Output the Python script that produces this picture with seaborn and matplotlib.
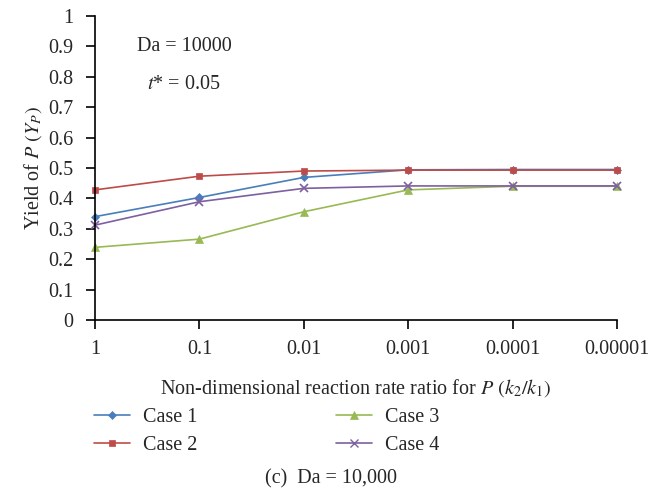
import matplotlib
matplotlib.use("Agg")
import matplotlib.pyplot as plt
import seaborn as sns
import pandas as pd
from matplotlib.lines import Line2D

categories = ["1", "0.1", "0.01", "0.001", "0.0001", "0.00001"]
case1 = [0.340, 0.403, 0.469, 0.494, 0.495, 0.495]
case2 = [0.428, 0.473, 0.490, 0.493, 0.493, 0.493]
case3 = [0.239, 0.266, 0.356, 0.428, 0.440, 0.440]
case4 = [0.312, 0.389, 0.433, 0.441, 0.441, 0.441]
series_names = ["Case 1", "Case 2", "Case 3", "Case 4"]
yticks = [0, 0.1, 0.2, 0.3, 0.4, 0.5, 0.6, 0.7, 0.8, 0.9, 1]
ytick_labels = ["0", "0.1", "0.2", "0.3", "0.4", "0.5", "0.6", "0.7", "0.8", "0.9", "1"]

sns.set_style("white")
plt.rcParams["font.family"] = ["Liberation Serif", "DejaVu Serif"]
plt.rcParams["mathtext.fontset"] = "stix"

rows = []
for name, vals in zip(series_names, [case1, case2, case3, case4]):
    for i, v in enumerate(vals):
        rows.append({"pos": i, "cat": categories[i], "value": v, "series": name})
df = pd.DataFrame(rows)

colors = {"Case 1": "#4a7ebb", "Case 2": "#be4b48", "Case 3": "#98b954", "Case 4": "#7d60a0"}
markers = {"Case 1": "D", "Case 2": "s", "Case 3": "^", "Case 4": "x"}
msizes = {"Case 1": 3.8, "Case 2": 4.8, "Case 3": 5.2, "Case 4": 6.0}

FS = 14.5
fig = plt.figure(figsize=(6.48, 4.92), dpi=100)
ax = fig.add_axes([0.1466, 0.3496, 0.8054, 0.6179])

for name in series_names:
    sub = df[df.series == name]
    sns.lineplot(data=sub, x="pos", y="value", ax=ax, color=colors[name],
                 marker=markers[name], markersize=msizes[name],
                 markeredgecolor=colors[name], markeredgewidth=1.2 if name == "Case 4" else 0.5,
                 linewidth=1.2, legend=False, clip_on=False)

ax.set_xlim(0, 5)
ax.set_ylim(0, 1)
ax.set_xticks(range(len(categories)))
ax.set_xticklabels(categories, fontsize=FS)
ax.set_yticks(yticks)
ax.set_yticklabels(ytick_labels, fontsize=FS)
ax.tick_params(axis="both", which="major", direction="out", length=6.3, width=1.2,
               color="black", bottom=True, left=True)
ax.tick_params(axis="x", pad=8)
ax.tick_params(axis="y", pad=9)
for s in ["top", "right"]:
    ax.spines[s].set_visible(False)
for s in ["left", "bottom"]:
    ax.spines[s].set_color("black")
    ax.spines[s].set_linewidth(1.2)

ax.set_xlabel("Non-dimensional reaction rate ratio for $P$ $(k_2/k_1)$", fontsize=FS, labelpad=13)
ax.set_ylabel("Yield of $P$ $(Y_P)$", fontsize=FS, labelpad=3)

ax.text(0.080, 0.901, "Da = 10000", transform=ax.transAxes, fontsize=FS, va="center", ha="left")
ax.text(0.0996, 0.776, "$t$* = 0.05", transform=ax.transAxes, fontsize=FS, va="center", ha="left")

handles = [Line2D([], [], color=colors[n], marker=markers[n], markersize=msizes[n],
                  markeredgecolor=colors[n], markeredgewidth=1.0 if n == "Case 4" else 0.5,
                  linewidth=1.2) for n in series_names]
fig.legend(handles, series_names, loc="upper left", bbox_to_anchor=(0.145, 0.170),
           ncol=2, frameon=False, fontsize=FS, columnspacing=6.85, handlelength=1.8,
           handletextpad=0.65, labelspacing=0.4, borderpad=0, borderaxespad=0)

fig.text(0.511, 0.027, "(c)  Da = 10,000", ha="center", va="center", fontsize=FS)

fig.savefig("out.png", dpi=100)
